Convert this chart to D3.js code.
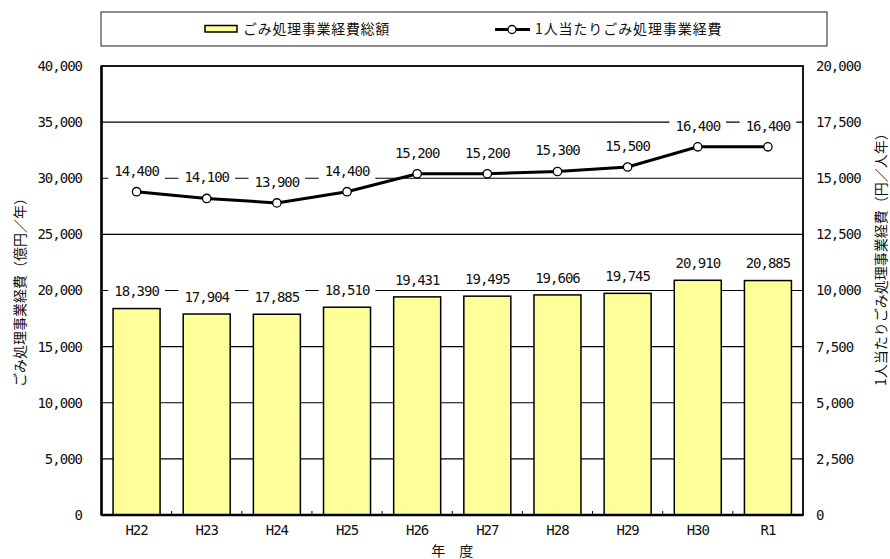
<!DOCTYPE html>
<html lang="ja">
<head>
<meta charset="utf-8">
<script src="https://cdn.jsdelivr.net/npm/d3@7"></script>
<style>
  html, body { margin: 0; padding: 0; background: #fff; }
  svg { display: block; }
  .num { font-family: "DejaVu Sans Mono", "Liberation Mono", monospace; font-size: 14px; letter-spacing: -1px; fill: #111; }
  .jp { font-family: "Noto Sans CJK JP", sans-serif; font-size: 14px; fill: #111; }
</style>
</head>
<body>
<svg id="chart" width="890" height="559"></svg>
<script>
// Fiscal years
const categories = ["H22", "H23", "H24", "H25", "H26", "H27", "H28", "H29", "H30", "R1"];
// Total waste-management cost (100 million yen / year)
const totalCost = [18390, 17904, 17885, 18510, 19431, 19495, 19606, 19745, 20910, 20885];
// Cost per person (yen / person-year)
const perCapitaCost = [14400, 14100, 13900, 14400, 15200, 15200, 15300, 15500, 16400, 16400];
// Axis ticks
const leftTicks = [0, 5000, 10000, 15000, 20000, 25000, 30000, 35000, 40000];
const rightTicks = [0, 2500, 5000, 7500, 10000, 12500, 15000, 17500, 20000];

const legendLabels = ["ごみ処理事業経費総額", "1人当たりごみ処理事業経費"];
const leftTitle = "ごみ処理事業経費（億円／年）";
const rightTitle = "1人当たりごみ処理事業経費（円／人年）";
const xTitle = "年　度";

const svg = d3.select("#chart");
const plot = { left: 101.5, right: 803, top: 66, bottom: 515 };
const fmt = d3.format(",");

const x = d3.scaleBand().domain(categories)
  .range([plot.left, plot.right]).paddingInner(0.33).paddingOuter(0.165);
const yL = d3.scaleLinear().domain([0, 40000]).range([plot.bottom, plot.top]);
const yR = d3.scaleLinear().domain([0, 20000]).range([plot.bottom, plot.top]);

// Horizontal gridlines
svg.append("g").selectAll("line").data(leftTicks.filter(t => t > 0 && t < 40000)).join("line")
  .attr("x1", plot.left).attr("x2", plot.right)
  .attr("y1", d => yL(d)).attr("y2", d => yL(d))
  .attr("stroke", "#000").attr("stroke-width", 1.2);

// Bars
svg.append("g").selectAll("rect").data(totalCost).join("rect")
  .attr("x", (d, i) => x(categories[i]))
  .attr("width", x.bandwidth())
  .attr("y", d => yL(d))
  .attr("height", d => yL(0) - yL(d))
  .attr("fill", "#FFFF99").attr("stroke", "#000").attr("stroke-width", 1.5);

// Category boundary ticks on the bottom axis (pointing inward)
const step = x.step();
svg.append("g").selectAll("line").data(d3.range(1, categories.length)).join("line")
  .attr("x1", i => plot.left + i * step).attr("x2", i => plot.left + i * step)
  .attr("y1", plot.bottom).attr("y2", plot.bottom - 4)
  .attr("stroke", "#000").attr("stroke-width", 1);

// Plot frame
svg.append("rect")
  .attr("x", plot.left).attr("y", plot.top)
  .attr("width", plot.right - plot.left).attr("height", plot.bottom - plot.top)
  .attr("fill", "none").attr("stroke", "#000").attr("stroke-width", 1.8);
svg.append("line").attr("x1", plot.left).attr("x2", plot.left)
  .attr("y1", plot.top).attr("y2", plot.bottom).attr("stroke", "#000").attr("stroke-width", 2.4);
svg.append("line").attr("x1", plot.left).attr("x2", plot.right)
  .attr("y1", plot.bottom).attr("y2", plot.bottom).attr("stroke", "#000").attr("stroke-width", 2.4);

// Per-capita line
const cx = i => x(categories[i]) + x.bandwidth() / 2;
svg.append("path").datum(perCapitaCost)
  .attr("d", d3.line().x((d, i) => cx(i)).y(d => yR(d)))
  .attr("fill", "none").attr("stroke", "#000").attr("stroke-width", 3);
svg.append("g").selectAll("circle").data(perCapitaCost).join("circle")
  .attr("cx", (d, i) => cx(i)).attr("cy", d => yR(d)).attr("r", 4.2)
  .attr("fill", "#fff").attr("stroke", "#000").attr("stroke-width", 1.3);

// Value labels with white backing
function valueLabels(values, yScale, offset) {
  const g = svg.append("g");
  values.forEach((v, i) => {
    const lg = g.append("g").attr("transform", `translate(${cx(i)},${yScale(v) - offset})`);
    const t = lg.append("text").attr("class", "num")
      .attr("text-anchor", "middle").attr("dy", "0.35em").text(fmt(v));
    const w = t.node().getComputedTextLength();
    lg.insert("rect", "text")
      .attr("x", -w / 2 - 6).attr("y", -9).attr("width", w + 12).attr("height", 18)
      .attr("fill", "#fff");
  });
}
valueLabels(totalCost, yL, 17);
valueLabels(perCapitaCost, yR, 21);

// Left axis tick labels
svg.append("g").selectAll("text").data(leftTicks).join("text")
  .attr("class", "num").attr("x", 82).attr("y", d => yL(d)).attr("dy", "0.35em")
  .attr("text-anchor", "end").text(d => fmt(d));
// Right axis tick labels
svg.append("g").selectAll("text").data(rightTicks).join("text")
  .attr("class", "num").attr("x", 816).attr("y", d => yR(d)).attr("dy", "0.35em")
  .attr("text-anchor", "start").text(d => fmt(d));
// Category labels
svg.append("g").selectAll("text").data(categories).join("text")
  .attr("class", "num").attr("x", d => x(d) + x.bandwidth() / 2).attr("y", 530).attr("dy", "0.35em")
  .attr("text-anchor", "middle").text(d => d);

// Axis titles
svg.append("text").attr("class", "jp").attr("x", (plot.left + plot.right) / 2).attr("y", 551)
  .attr("dy", "0.35em").attr("text-anchor", "middle").text(xTitle);
svg.append("text").attr("class", "jp").attr("transform", "translate(20,387) rotate(-90)")
  .attr("dy", "0.35em").attr("text-anchor", "start").text(leftTitle);
svg.append("text").attr("class", "jp").attr("transform", "translate(881,386) rotate(-90)")
  .attr("dy", "0.35em").attr("text-anchor", "start").text(rightTitle);

// Legend
const lg = svg.append("g");
lg.append("rect").attr("x", 101).attr("y", 12).attr("width", 726).attr("height", 34)
  .attr("fill", "#fff").attr("stroke", "#444").attr("stroke-width", 1.2);
lg.append("rect").attr("x", 205).attr("y", 25.5).attr("width", 32).attr("height", 6.5)
  .attr("fill", "#FFFF99").attr("stroke", "#000").attr("stroke-width", 1.5);
lg.append("text").attr("class", "jp").attr("x", 243).attr("y", 29.5).attr("dy", "0.35em")
  .attr("letter-spacing", "0.7px").text(legendLabels[0]);
lg.append("line").attr("x1", 495).attr("x2", 530).attr("y1", 29.5).attr("y2", 29.5)
  .attr("stroke", "#000").attr("stroke-width", 3);
lg.append("circle").attr("cx", 512).attr("cy", 29.5).attr("r", 4)
  .attr("fill", "#fff").attr("stroke", "#000").attr("stroke-width", 1.3);
lg.append("text").attr("class", "jp").attr("x", 535).attr("y", 29.5).attr("dy", "0.35em")
  .attr("letter-spacing", "0.9px").text(legendLabels[1]);
</script>
</body>
</html>
